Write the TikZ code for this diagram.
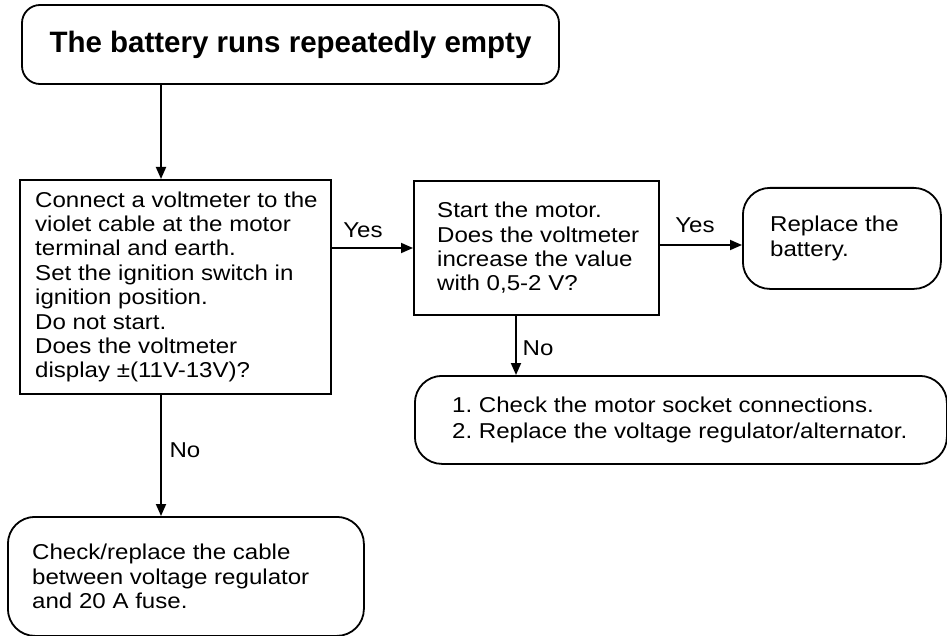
\documentclass[tikz,border=0pt]{standalone}
\usepackage{fontspec}
\setmainfont{Liberation Sans}
\newfontfamily\bodyfont[FakeStretch=1.12]{Liberation Sans}
\usetikzlibrary{arrows.meta}
\begin{document}
\frenchspacing
\begin{tikzpicture}[x=1pt,y=-1pt,
  every node/.style={font=\bodyfont\fontsize{21.5}{24.4}\selectfont},
  boxsq/.style={draw, line width=1.8pt, inner sep=0pt, anchor=north west},
  boxrnd/.style={boxsq, rounded corners=27pt},
  txt/.style={anchor=west, align=left, inner sep=0pt},
  arr/.style={line width=1.8pt, -{Triangle[length=12pt,width=10pt]}},
  lbl/.style={inner sep=0pt}]
\useasboundingbox (0,0) rectangle (947,636);
% nodes
\node[draw, line width=1.8pt, rounded corners=18pt, minimum width=537pt, minimum height=79pt,
      font=\fontsize{29.5}{32}\selectfont\bfseries] (top) at (290.5,44.5) {The battery runs repeatedly empty};
\node[boxsq, minimum width=311pt, minimum height=214pt] (b2) at (19,179) {};
\node[txt] (t2) at ([xshift=16pt]b2.west) {Connect a voltmeter to the\\violet cable at the motor\\terminal and earth.\\Set the ignition switch in\\ignition position.\\Do not start.\\Does the voltmeter\\display ±(11V-13V)?};
\node[boxsq, minimum width=245pt, minimum height=134pt] (b3) at (413,180) {};
\node[txt] (t3) at ([xshift=24pt]b3.west) {Start the motor.\\Does the voltmeter\\increase the value\\with 0,5-2 V?};
\node[boxrnd, minimum width=198pt, minimum height=101pt] (b4) at (742,187) {};
\node[txt] (t4) at ([xshift=28pt]b4.west) {Replace the\\battery.};
\node[boxrnd, minimum width=532pt, minimum height=88pt] (b5) at (414,375) {};
\node[txt, font=\bodyfont\fontsize{21.5}{26.5}\selectfont] (t5) at ([xshift=38pt]b5.west) {1. Check the motor socket connections.\\2. Replace the voltage regulator/alternator.};
\node[boxrnd, minimum width=356pt, minimum height=119pt] (b6) at (7,516) {};
\node[txt] (t6) at ([xshift=25pt]b6.west) {Check/replace the cable\\between voltage regulator\\and 20 A fuse.};
% helper coordinates
\coordinate (ax) at (161,0);
\coordinate (ay1) at (0,248);
\coordinate (ay2) at (0,245);
\coordinate (ax3) at (516,0);
% connectors
\draw[arr] (top.south -| ax) -- (b2.north -| ax);
\draw[arr] (b2.east |- ay1) -- (b3.west |- ay1);
\draw[arr] (b3.east |- ay2) -- (b4.west |- ay2);
\draw[arr] (b3.south -| ax3) -- (b5.north -| ax3);
\draw[arr] (b2.south -| ax) -- (b6.north -| ax);
% labels
\node[lbl] (l1) at (363,230) {Yes};
\node[lbl] (l2) at (695,225) {Yes};
\node[lbl] (l3) at (538,348) {No};
\node[lbl] (l4) at (185,450) {No};
\end{tikzpicture}
\end{document}
